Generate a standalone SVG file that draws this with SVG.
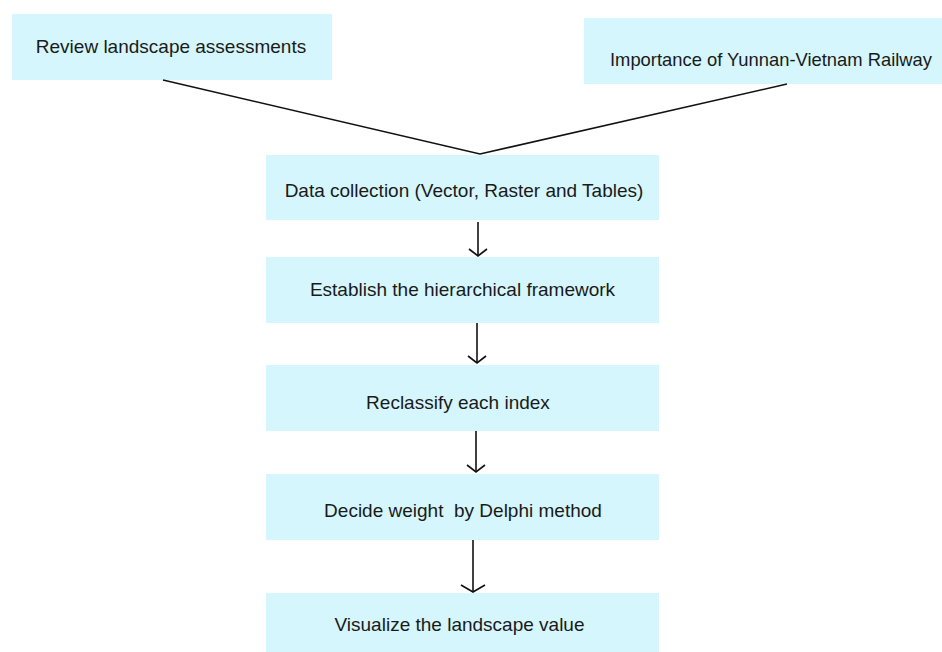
<svg xmlns="http://www.w3.org/2000/svg" width="942" height="652" viewBox="0 0 942 652">
<style>
.box{fill:#d5f6fc;}
.t{font-family:"Liberation Sans",Arial,sans-serif;font-size:19px;fill:#1a1a1a;}
.c{text-anchor:middle;}
.ln{stroke:#111;stroke-width:1.6;fill:none;}
</style>
<rect width="942" height="652" fill="#fff"/>
<g id="n1"><rect class="box" x="12" y="14" width="320" height="66"/><text class="t c" x="171" y="53">Review landscape assessments</text></g>
<g id="n2"><rect class="box" x="584" y="18" width="358" height="66"/><text class="t" x="610" y="66" textLength="322" lengthAdjust="spacingAndGlyphs">Importance of Yunnan-Vietnam Railway</text></g>
<g id="n3"><rect class="box" x="266" y="155" width="393" height="65"/><text class="t c" x="464" y="197">Data collection (Vector, Raster and Tables)</text></g>
<g id="n4"><rect class="box" x="266" y="257" width="393" height="66"/><text class="t c" x="462.5" y="296">Establish the hierarchical framework</text></g>
<g id="n5"><rect class="box" x="266" y="365" width="393" height="66"/><text class="t c" x="458" y="409">Reclassify each index</text></g>
<g id="n6"><rect class="box" x="266" y="474" width="393" height="66"/><text class="t c" x="463" y="517" xml:space="preserve">Decide weight  by Delphi method</text></g>
<g id="n7"><rect class="box" x="266" y="593" width="393" height="59"/><text class="t c" x="459.5" y="631">Visualize the landscape value</text></g>
<g id="connectors">
<path class="ln" d="M163,80 L480,154 L787,84"/>
<path class="ln" d="M478,222 V256"/>
<path class="ln" d="M469,249 L478,256 L487,249"/>
<path class="ln" d="M477,323 V363"/>
<path class="ln" d="M468,356 L477,363 L486,356"/>
<path class="ln" d="M476,431 V472"/>
<path class="ln" d="M467,465 L476,472 L485,465"/>
<path class="ln" d="M473,540 V592"/>
<path class="ln" d="M461,585 L473,592 L485,585"/>
</g>
</svg>
